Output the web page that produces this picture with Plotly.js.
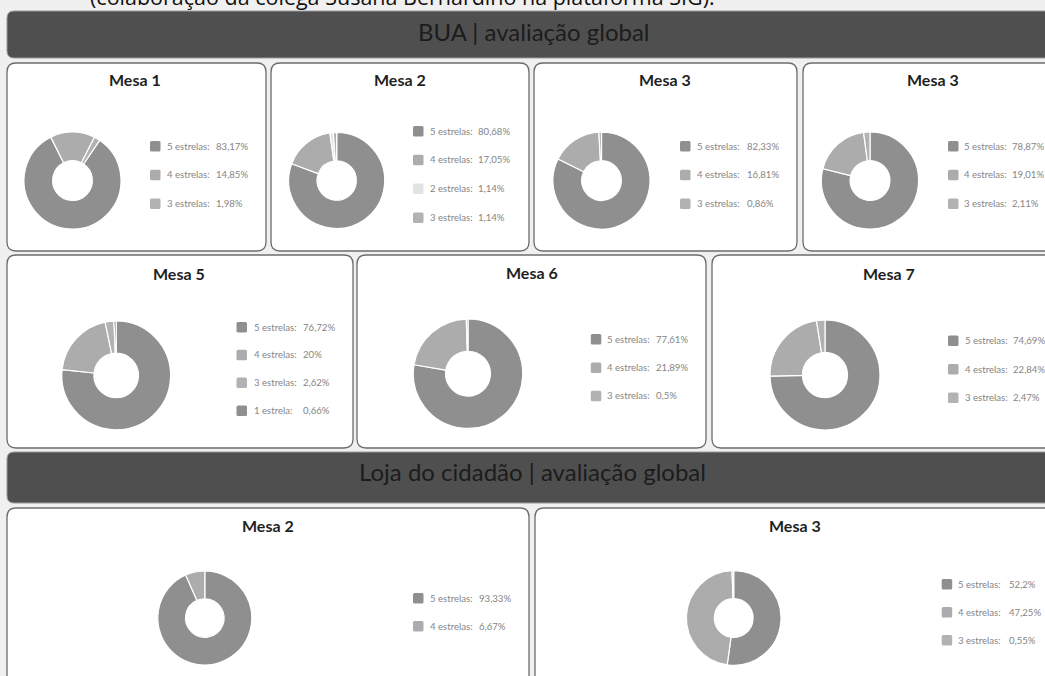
<!DOCTYPE html>
<html>
<head>
<meta charset="utf-8">
<script src="https://cdn.plot.ly/plotly-3.0.1.min.js"></script>
<style>
html,body{margin:0;padding:0;background:#f0f0f0;}
#chart{width:1045px;height:676px;}
</style>
</head>
<body>
<div id="chart"></div>
<script>
// ---------- DATA ----------
const headerBUA = 'BUA | avaliação global';
const headerLoja = 'Loja do cidadão | avaliação global';
const topNote = '(colaboração da colega Susana Bernardino na plataforma SIG).';

const titles = ['Mesa 1', 'Mesa 2', 'Mesa 3', 'Mesa 3', 'Mesa 5', 'Mesa 6', 'Mesa 7', 'Mesa 2', 'Mesa 3'];

const m1Labels = ['5 estrelas', '4 estrelas', '3 estrelas'];
const m1Values = [83.17, 14.85, 1.98];

const m2Labels = ['5 estrelas', '4 estrelas', '2 estrelas', '3 estrelas'];
const m2Values = [80.68, 17.05, 1.14, 1.14];

const m3Labels = ['5 estrelas', '4 estrelas', '3 estrelas'];
const m3Values = [82.33, 16.81, 0.86];

const m3bLabels = ['5 estrelas', '4 estrelas', '3 estrelas'];
const m3bValues = [78.87, 19.01, 2.11];

const m5Labels = ['5 estrelas', '4 estrelas', '3 estrelas', '1 estrela'];
const m5Values = [76.72, 20, 2.62, 0.66];

const m6Labels = ['5 estrelas', '4 estrelas', '3 estrelas'];
const m6Values = [77.61, 21.89, 0.5];

const m7Labels = ['5 estrelas', '4 estrelas', '3 estrelas'];
const m7Values = [74.69, 22.84, 2.47];

const lojaM2Labels = ['5 estrelas', '4 estrelas'];
const lojaM2Values = [93.33, 6.67];

const lojaM3Labels = ['5 estrelas', '4 estrelas', '3 estrelas'];
const lojaM3Values = [52.2, 47.25, 0.55];

// ---------- STYLE / LAYOUT ----------
const W = 1045, H = 676;
const starColors = {
  '5 estrelas': '#8f8f8f',
  '4 estrelas': '#acacac',
  '3 estrelas': '#b2b2b2',
  '2 estrelas': '#e3e3e3',
  '1 estrela': '#8f8f8f'
};

const panels = [
  [7, 63, 266, 251], [271, 63, 529, 251], [534, 63, 797, 251], [803, 63, 1065, 251],
  [7, 255, 353, 448], [357, 255, 706, 448], [712, 255, 1065, 448],
  [7, 508, 529, 710], [535, 508, 1065, 710]
];
const headers = [[7, 11, 1065, 58], [7, 452, 1065, 503]];

const charts = [
  {lab: m1Labels, val: m1Values, cx: 72.5, cy: 180.5, r: 48.5, rot: 34, tx: 135, ty: 79, sq: 150, lx: 164.5, vx: 214, ly: 146, dy: 28.8},
  {lab: m2Labels, val: m2Values, cx: 336.7, cy: 180.5, r: 48, rot: 0, tx: 400, ty: 79, sq: 413, lx: 428, vx: 476, ly: 131, dy: 28.8},
  {lab: m3Labels, val: m3Values, cx: 601.5, cy: 180.6, r: 48.5, rot: 0, tx: 665, ty: 79, sq: 680, lx: 694.5, vx: 744.5, ly: 146, dy: 28.8},
  {lab: m3bLabels, val: m3bValues, cx: 870, cy: 180.5, r: 48.6, rot: 0, tx: 933, ty: 79, sq: 948, lx: 962, vx: 1010, ly: 146, dy: 28.8},
  {lab: m5Labels, val: m5Values, cx: 116.2, cy: 375.4, r: 54.4, rot: 0, tx: 179, ty: 273, sq: 236.5, lx: 251.5, vx: 300.5, ly: 327, dy: 27.8},
  {lab: m6Labels, val: m6Values, cx: 468, cy: 373.7, r: 54.7, rot: 0, tx: 531.7, ty: 272, sq: 590.8, lx: 605, vx: 654, ly: 339, dy: 28.4},
  {lab: m7Labels, val: m7Values, cx: 825, cy: 375, r: 55, rot: 0, tx: 889, ty: 273, sq: 948, lx: 963, vx: 1010.8, ly: 340.5, dy: 28.5},
  {lab: lojaM2Labels, val: lojaM2Values, cx: 204.8, cy: 618, r: 47, rot: 0, tx: 268, ty: 525, sq: 413, lx: 428, vx: 476.7, ly: 598, dy: 28},
  {lab: lojaM3Labels, val: lojaM3Values, cx: 733.7, cy: 618, r: 47.3, rot: 0, tx: 795, ty: 525, sq: 941.7, lx: 955.5, vx: 1006.7, ly: 584, dy: 28}
];

function roundRect(x0, y0, x1, y1, rr) {
  return 'M' + (x0 + rr) + ',' + y0 + ' L' + (x1 - rr) + ',' + y0 +
    ' Q' + x1 + ',' + y0 + ' ' + x1 + ',' + (y0 + rr) +
    ' L' + x1 + ',' + (y1 - rr) + ' Q' + x1 + ',' + y1 + ' ' + (x1 - rr) + ',' + y1 +
    ' L' + (x0 + rr) + ',' + y1 + ' Q' + x0 + ',' + y1 + ' ' + x0 + ',' + (y1 - rr) +
    ' L' + x0 + ',' + (y0 + rr) + ' Q' + x0 + ',' + y0 + ' ' + (x0 + rr) + ',' + y0 + ' Z';
}
function fmt(v) { return String(v).replace('.', ',') + '%'; }

const traces = [];
const shapes = [];
const annotations = [];

headers.forEach(h => shapes.push({type: 'path', path: roundRect(h[0], h[1], h[2], h[3], 7), xref: 'x', yref: 'y',
  fillcolor: '#4f4f4f', line: {color: '#9a9a9a', width: 1}, layer: 'below'}));
panels.forEach(p => shapes.push({type: 'path', path: roundRect(p[0], p[1], p[2], p[3], 9), xref: 'x', yref: 'y',
  fillcolor: '#ffffff', line: {color: '#6c6c6c', width: 1.3}, layer: 'below'}));

annotations.push({x: 534, y: 31, xref: 'x', yref: 'y', text: headerBUA, showarrow: false,
  font: {family: 'Lato, sans-serif', size: 24, color: '#1c1c1c'}, xanchor: 'center', yanchor: 'middle'});
annotations.push({x: 532, y: 471, xref: 'x', yref: 'y', text: headerLoja, showarrow: false,
  font: {family: 'Lato, sans-serif', size: 24, color: '#1c1c1c'}, xanchor: 'center', yanchor: 'middle'});
annotations.push({x: 88 / W, y: 1 - 13.5 / H, xref: 'paper', yref: 'paper', text: topNote, showarrow: false,
  font: {family: 'Open Sans, sans-serif', size: 21.5, color: '#111111'}, xanchor: 'left', yanchor: 'bottom'});

charts.forEach((c, i) => {
  traces.push({
    type: 'pie', labels: c.lab, values: c.val, hole: 0.41, sort: false, direction: 'clockwise',
    rotation: c.rot, textinfo: 'none', hoverinfo: 'label+percent', showlegend: false,
    marker: {colors: c.lab.map(l => starColors[l]), line: {color: '#ffffff', width: 1.2}},
    domain: {x: [(c.cx - c.r) / W, (c.cx + c.r) / W], y: [1 - (c.cy + c.r) / H, 1 - (c.cy - c.r) / H]}
  });
  annotations.push({x: c.tx, y: c.ty, xref: 'x', yref: 'y', text: titles[i], showarrow: false,
    font: {family: 'Lato, sans-serif', size: 16, color: '#1f1f1f', weight: 700}, xanchor: 'center', yanchor: 'middle'});
  c.lab.forEach((l, k) => {
    const y = c.ly + k * c.dy;
    shapes.push({type: 'path', path: roundRect(c.sq, y - 5, c.sq + 10.5, y + 5.5, 1.5), xref: 'x', yref: 'y',
      fillcolor: starColors[l], line: {width: 0}, layer: 'above'});
    annotations.push({x: c.lx, y: y, xref: 'x', yref: 'y', text: l + ':', showarrow: false,
      font: {family: 'Lato, sans-serif', size: 9.6, color: '#858585'}, xanchor: 'left', yanchor: 'middle'});
    annotations.push({x: c.vx, y: y, xref: 'x', yref: 'y', text: fmt(c.val[k]), showarrow: false,
      font: {family: 'Lato, sans-serif', size: 9.6, color: '#858585'}, xanchor: 'left', yanchor: 'middle'});
  });
});

const layout = {
  width: W, height: H,
  margin: {l: 0, r: 0, t: 0, b: 0},
  paper_bgcolor: '#f0f0f0', plot_bgcolor: 'rgba(0,0,0,0)',
  xaxis: {range: [0, W], visible: false, fixedrange: true, showgrid: false, zeroline: false},
  yaxis: {range: [H, 0], visible: false, fixedrange: true, showgrid: false, zeroline: false},
  shapes: shapes, annotations: annotations, showlegend: false
};

Plotly.newPlot('chart', traces, layout, {displayModeBar: false, staticPlot: true});
</script>
</body>
</html>
